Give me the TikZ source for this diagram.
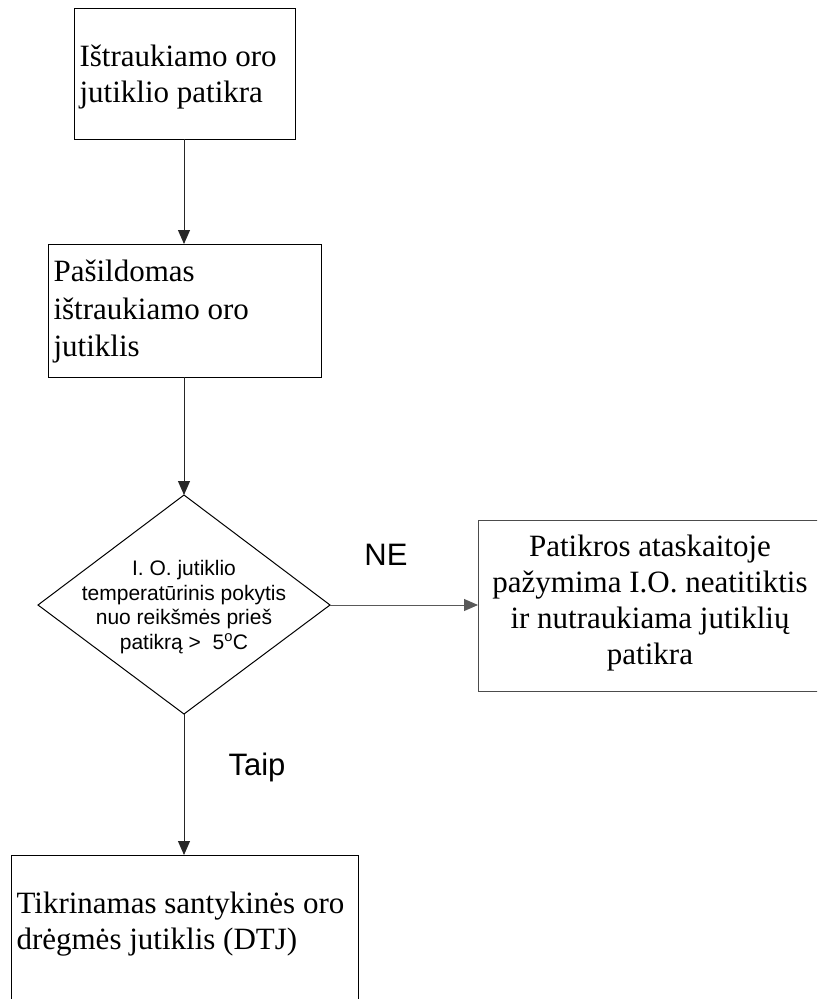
\documentclass[tikz,border=0pt]{standalone}
\usepackage{fontspec}
\setmainfont{Liberation Serif}
\newfontfamily\arialfont{Liberation Sans}
\usetikzlibrary{arrows.meta,shapes.geometric}

\tikzset{
  stepbox/.style={draw=black, line width=1pt, inner sep=0pt},
  bodytext/.style={font=\fontsize{31}{36}\selectfont, align=left},
  flowarrow/.style={draw=black!85, line width=1pt, -{Triangle[width=12pt,length=14pt]}},
  branchlabel/.style={font=\arialfont\fontsize{31}{34}\selectfont, inner sep=0pt}
}

\begin{document}
\begin{tikzpicture}[x=1pt,y=-1pt]
  \useasboundingbox (0,0) rectangle (817,999);
  \begin{scope}
  \clip (0,0) rectangle (817,999);

  % process boxes
  \draw[stepbox] (74,8) rectangle (295,139);
  \node[bodytext, anchor=west] (t1) at (76,77) {Ištraukiamo oro\\jutiklio patikra};
  \coordinate (b1top) at (184,8);
  \coordinate (b1bot) at (184,139);

  \draw[stepbox] (48,244) rectangle (321,377);
  \node[bodytext, anchor=west, font=\fontsize{31}{37.5}\selectfont] (t2) at (50,312) {Pašildomas\\ištraukiamo oro\\jutiklis};
  \coordinate (b2top) at (184,244);
  \coordinate (b2bot) at (184,377);

  % decision
  \draw[stepbox] (184,495) -- (330,605) -- (184,714) -- (38,605) -- cycle;
  \coordinate (dtop) at (184,495);
  \coordinate (dright) at (330,605);
  \coordinate (dbot) at (184,714);
  \node[font=\arialfont\fontsize{21}{24.5}\selectfont, align=center] (dtext) at (184,607)
    {I. O. jutiklio\\temperatūrinis pokytis\\nuo reikšmės prieš\\patikrą >\ \ 5\textsuperscript{o}C};

  % failure outcome
  \draw[draw=black!70, line width=1pt] (478,520) rectangle (830,691);
  \coordinate (b3left) at (478,605);
  \node[bodytext, align=center] (t3) at (650,603)
    {Patikros ataskaitoje\\pažymima I.O. neatitiktis\\ir nutraukiama jutiklių\\patikra};

  % next step
  \draw[stepbox] (11,855) rectangle (358,1010);
  \coordinate (b4top) at (184,855);
  \node[bodytext, anchor=west] (t4) at (13,924) {Tikrinamas santykinės oro\\drėgmės jutiklis (DTJ)};

  % connectors
  \draw[flowarrow] (b1bot) -- (b2top);
  \draw[flowarrow] (b2bot) -- (dtop);
  \draw[flowarrow, draw=black!65] (dright) -- (b3left);
  \draw[flowarrow] (dbot) -- (b4top);

  % branch labels
  \node[branchlabel] (ne) at (386,555) {NE};
  \node[branchlabel] (taip) at (257,767) {Taip};
  \end{scope}
\end{tikzpicture}
\end{document}
